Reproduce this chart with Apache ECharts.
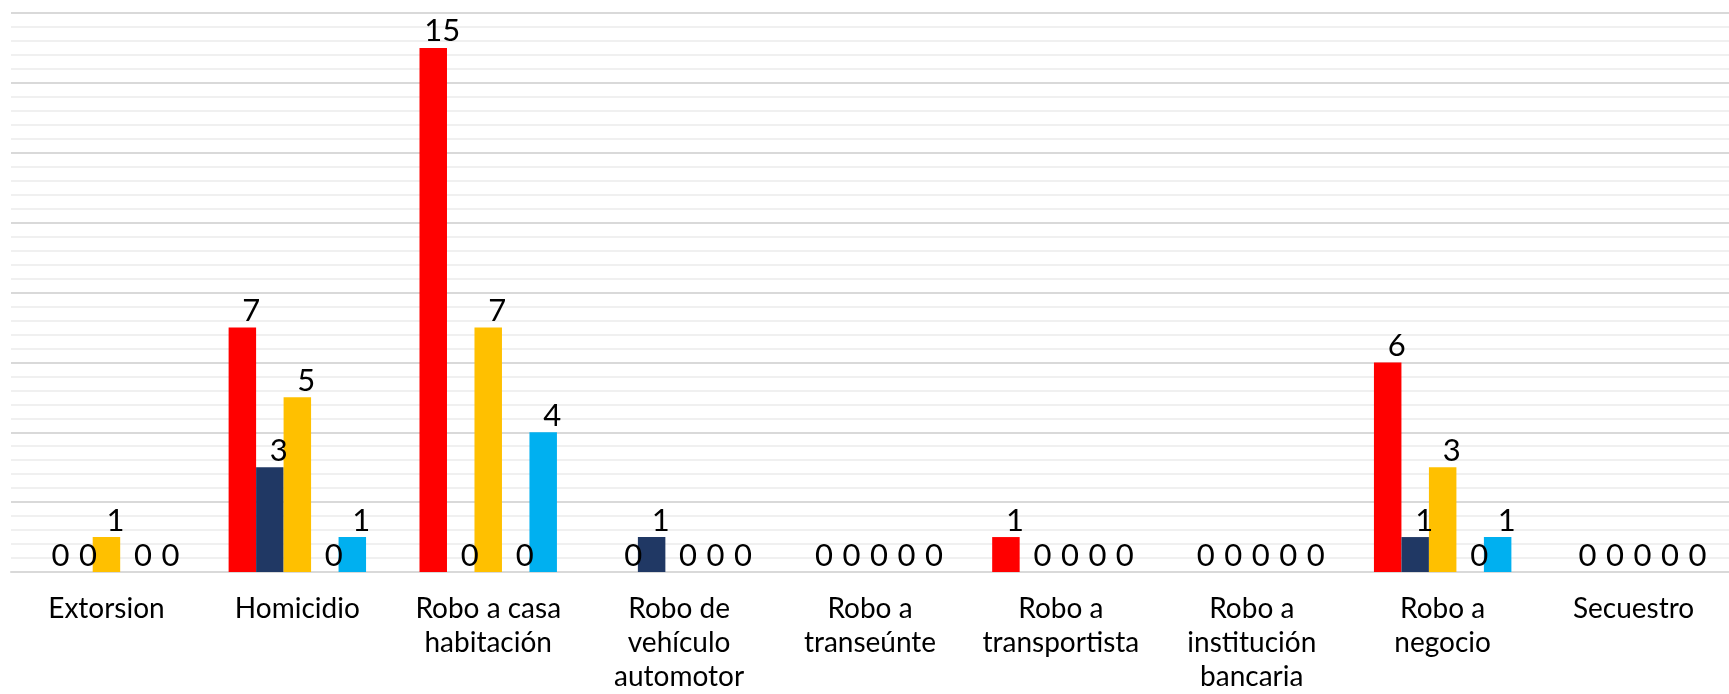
<!DOCTYPE html>
<html>
<head>
<meta charset="utf-8">
<script src="https://cdn.jsdelivr.net/npm/echarts@6/dist/echarts.min.js"></script>
<style>
	html, body { margin: 0; padding: 0; background: #fff; }
	#chart { width: 1729px; height: 694px; }
</style>
</head>
<body>
<div id="chart"></div>
<script>
// categorias (con saltos de línea como en el original)
const categorias = [
	"Extorsion",
	"Homicidio",
	"Robo a casa\nhabitación",
	"Robo de\nvehículo\nautomotor",
	"Robo a\ntranseúnte",
	"Robo a\ntransportista",
	"Robo a\ninstitución\nbancaria",
	"Robo a\nnegocio",
	"Secuestro",
];
const serieRoja = [0, 7, 15, 0, 0, 1, 0, 6, 0];
const serieAzulOscuro = [0, 3, 0, 1, 0, 0, 0, 1, 0];
const serieAmarilla = [1, 5, 7, 0, 0, 0, 0, 3, 0];
const serieGris = [0, 0, 0, 0, 0, 0, 0, 0, 0];
const serieAzulClaro = [0, 1, 4, 0, 0, 0, 0, 1, 0];

const fuente = "Lato";
const chart = echarts.init(document.getElementById("chart"));

function serie(data, color) {
	return {
		type: "bar",
		data: data,
		barGap: "0%",
		barCategoryGap: "28%",
		itemStyle: { color: color },
		label: {
			show: true,
			position: "top",
			distance: 1,
			offset: [9, 0],
			color: "#000",
			fontFamily: fuente,
			fontSize: 31,
		},
	};
}

let option = {
	animation: false,
	grid: {
		left: 11,
		top: 13,
		right: 0,
		bottom: 118,
		containLabel: false,
	},
	xAxis: {
		type: "category",
		data: categorias,
		axisTick: { show: false },
		axisLine: { show: true, lineStyle: { color: "#d9d9d9", width: 2 } },
		axisLabel: {
			interval: 0,
			margin: 20,
			color: "#000",
			fontFamily: fuente,
			fontSize: 28,
			lineHeight: 34,
		},
	},
	yAxis: {
		type: "value",
		min: 0,
		max: 16,
		interval: 2,
		axisLabel: { show: false },
		axisLine: { show: false },
		axisTick: { show: false },
		splitLine: { show: true, lineStyle: { color: "#d9d9d9", width: 2 } },
		minorTick: { show: false, splitNumber: 5 },
		minorSplitLine: { show: true, lineStyle: { color: "#f0f0f0", width: 2 } },
	},
	series: [
		serie(serieRoja, "#ff0000"),
		serie(serieAzulOscuro, "#203864"),
		serie(serieAmarilla, "#ffc000"),
		serie(serieGris, "#a5a5a5"),
		serie(serieAzulClaro, "#00b0f0"),
	],
};
chart.setOption(option, true);
</script>
</body>
</html>
